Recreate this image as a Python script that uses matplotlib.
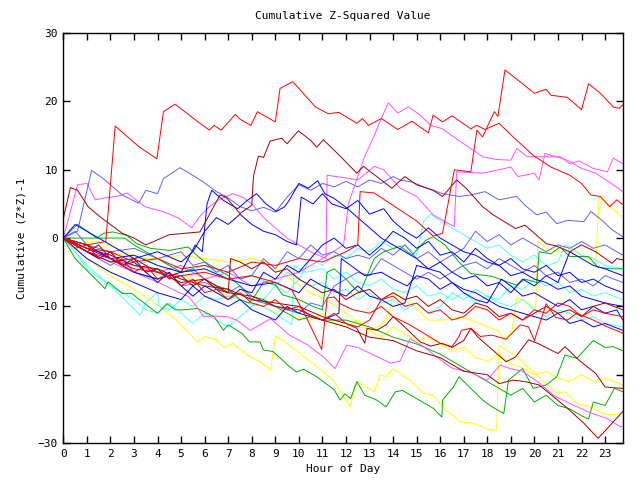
import matplotlib
matplotlib.use("Agg")
import matplotlib.pyplot as plt
import numpy as np

# knots: (hour of day, cumulative value)
red_top = [(0, 0), (1, -1), (1.8, -0.5), (2.2, 16.4), (2.6, 15.2), (3.2, 13.4), (3.97, 11.6), (4.25, 18.5),
           (4.74, 19.6), (5.8, 16.8), (6.2, 15.8), (6.4, 16.5), (6.7, 15.8), (7.3, 18.1), (7.5, 17.4),
           (7.96, 16.5), (8.24, 18.5), (9.0, 17.0), (9.2, 21.9), (9.74, 22.9), (10.7, 19.2), (11.25, 18.2),
           (11.7, 18.4), (12.46, 16.8), (12.7, 17.5), (12.95, 16.5), (13.5, 17.5), (14.2, 15.9), (14.8, 17.1),
           (15.5, 15.4), (15.7, 18.0), (16.1, 17.0), (16.5, 17.9), (17.3, 16.0), (17.55, 16.5), (17.9, 15.9),
           (18.5, 16.8), (19.1, 14.8), (19.95, 12.1), (20.7, 10.4), (21.5, 9.2), (22.0, 8.0), (22.4, 6.3),
           (22.8, 6.1), (23.2, 4.6), (23.5, 5.6), (23.75, 4.9)]
red_jump = [(0, 0), (1, -1.5), (2, -2), (3, -3.5), (4, -3), (5, -4.5), (6, -4), (7, -5), (8, -3.5), (9, -4),
            (10, -3), (11, -3.5), (12, -2), (12.5, -1), (12.6, 6.8), (13.2, 6.6), (14.3, 4.1), (15.0, 2.5),
            (15.7, 0.3), (16.1, 0.7), (16.6, 10), (17.3, 9.7), (17.56, 15.8), (17.8, 14.8), (18.0, 16.3),
            (18.3, 18.5), (18.45, 17.8), (18.75, 24.6), (19.2, 23.4), (20.0, 21.2), (20.5, 21.8), (20.7, 20.9),
            (21.4, 20.6), (22.0, 18.8), (22.3, 22.6), (22.8, 21.2), (23.35, 19.2), (23.6, 19.0), (23.75, 19.5)]
red_mid = [(0, 0), (1, -2), (2, -3), (3, -4.5), (4, -5), (5, -5.5), (6, -5), (7, -6), (8, -5.5), (9, -6.5),
           (9.7, -7.6), (10.3, -11.5), (10.97, -16.3), (11.2, -8.8), (11.5, -8.6), (11.75, -9.6), (12.3, -10.5),
           (13, -11), (13.5, -10), (14, -11.5), (14.6, -12.5), (15.2, -13.7), (16, -15.4), (16.5, -15.9),
           (16.8, -14.4), (16.9, -13.5), (17.3, -13.2), (17.7, -14.4), (18.2, -14.2), (18.8, -14.8),
           (19.4, -12.7), (19.75, -13), (20.0, -15), (20.5, -9.6), (20.9, -11.6), (21.4, -12), (21.8, -11),
           (22.5, -12), (23.1, -13), (23.75, -13.9)]
red_low = [(0, 0), (0.5, -1.5), (1, -1), (1.5, -3), (2, -2), (2.5, -4), (3, -5), (3.5, -4), (4, -6), (4.5, -5.5),
           (5, -7), (5.5, -6), (6, -8), (6.5, -7.5), (7, -9), (7.5, -8), (8, -9.5), (8.5, -10), (9, -9),
           (9.5, -10.5), (10, -10), (10.5, -11.5), (11, -12), (11.5, -11), (12, -12.5), (12.5, -13), (13, -12),
           (13.5, -9), (14, -8.5), (14.5, -10), (15, -9.5), (15.5, -11), (16, -10.5), (16.5, -12), (17, -11.5),
           (17.5, -10), (18, -10.5), (18.5, -12), (19, -11), (19.5, -12), (20, -10.5), (20.5, -11), (21, -9.5),
           (21.5, -10), (22, -11.5), (22.5, -10.5), (23, -11), (23.75, -11.5)]

dkred_top = [(0, 2.9), (0.3, 7.4), (0.6, 7.0), (1.05, 4.6), (1.6, 3.0), (2.5, 0.7), (3.0, 0), (3.5, -1),
             (4.5, 0.5), (5.8, 0.9), (6.65, 6.3), (6.9, 6.0), (7.5, 3.6), (8.0, 4.8), (8.07, 9.0), (8.28, 12.0),
             (8.5, 11.8), (8.78, 14.2), (9.27, 14.6), (9.5, 13.8), (9.98, 15.7), (10.5, 14.3), (10.76, 13.3),
             (11.04, 14.4), (11.75, 12.0), (12.46, 9.5), (12.74, 10.5), (13.95, 7.3), (14.5, 9.0), (15.0, 7.8),
             (15.7, 7.0), (16.1, 6.1), (16.7, 8.5), (17.1, 7.3), (17.8, 4.6), (18.25, 3.4), (19.2, 1.4),
             (19.6, 1.9), (20.1, 0.4), (20.5, -0.8), (20.95, -1.2), (21.5, -2.0), (22.0, -1.0), (22.6, -2.0),
             (23.3, -3.7), (23.5, -3.0), (23.75, -3.2)]
dkred_low = [(0, 0), (1, -2), (2, -3.5), (3, -3), (4, -5), (5, -6.5), (6, -6), (7, -8), (8, -8.5), (9, -10),
             (10, -10.5), (11, -12), (12, -13), (13, -14.5), (14, -15), (15, -16.5), (16, -17.5), (17, -19.5),
             (18, -20), (18.5, -21.3), (19.1, -20.8), (19.6, -21), (20.2, -21.5), (20.8, -23.2), (21.4, -24.9),
             (22.1, -27.1), (22.7, -29.3), (22.9, -28.6), (23.35, -26.9), (23.75, -25.4)]
dkred_mid = [(0, 0), (1, -1.5), (2, -2.5), (3, -4), (4, -4.5), (5, -6), (6, -7), (7, -7.5), (8, -9), (9, -9.5),
             (10, -10), (11, -11.5), (12, -12.5), (12.46, -13.2), (12.8, -15.4), (12.9, -13.2), (13.3, -13.5),
             (13.7, -12.7), (14, -11.5), (14.4, -12.7), (15.15, -15.2), (15.6, -15.8), (16.07, -15.4),
             (16.5, -16), (17, -15), (17.3, -13.2), (17.6, -14.5), (18.8, -18.1), (19.2, -17.4), (19.75, -14.9),
             (20.2, -15.5), (21.0, -16.9), (21.3, -15.9), (21.9, -17.9), (22.6, -19.8), (23.0, -21.8), (23.75, -22)]
dkred_band = [(0, 0), (0.5, -1), (1, -2), (1.5, -1), (2, -3), (2.5, -4), (3, -3.5), (3.5, -5), (4, -4.5),
              (4.5, -6), (5, -5.5), (5.5, -7), (6, -6), (6.5, -7.5), (7, -8), (7.1, -3), (7.5, -3.5), (8, -4.5),
              (8.5, -3.5), (9, -5), (9.5, -4.5), (10, -6), (10.5, -7), (11, -8), (11.5, -7.5), (12, -9),
              (12.5, -8), (13, -7.5), (13.5, -9), (14, -8), (14.5, -9), (15, -8.5), (15.5, -10), (16, -9),
              (16.5, -10.5), (17, -11), (17.5, -9.5), (18, -10), (18.5, -11.5), (19, -11), (19.5, -12),
              (20, -11), (20.5, -10), (21, -11), (21.5, -10.5), (22, -11.5), (22.5, -10), (23, -9.5), (23.75, -10.5)]

mag_top = [(0, 0), (1, -1), (2, -3), (3, -4), (4, -5), (5, -4), (6, -6), (7, -5), (8, -7), (9, -6), (10, -5),
           (11, -3), (11.9, -1), (12.1, 5), (12.4, 8), (12.8, 12), (13.2, 15), (13.5, 17.5), (13.8, 19.8),
           (14.2, 18.3), (14.65, 19.2), (15.15, 18), (15.6, 16.5), (16.1, 16), (16.7, 14.5), (17.3, 13.1),
           (17.8, 11.9), (18.4, 11.5), (19, 11.4), (19.25, 13.1), (19.7, 11.9), (20.4, 11.9), (21.1, 11.9),
           (21.5, 10.9), (21.9, 11.3), (22.5, 10.2), (23.1, 9.7), (23.35, 11.7), (23.75, 10.9)]
mag_mid = [(0, 0), (0.6, 7.8), (1.0, 8), (1.35, 5.6), (1.8, 5.9), (2.27, 6.1), (2.7, 6.6), (3.47, 4.6),
           (4.3, 3.8), (4.9, 2.9), (5.45, 1.5), (5.8, 3.2), (6.2, 4.6), (6.6, 5.6), (7.2, 6.5), (7.6, 6),
           (8.0, 5), (8.5, 3), (9, 1.5), (9.5, 0), (10, -1), (10.5, -2), (11.15, -3), (11.2, 9.2), (12, 8.8),
           (12.5, 8.5), (13.2, 10.5), (13.6, 10), (14.3, 7.3), (15, 6.1), (15.7, 3.4), (16.3, 2.2), (16.6, 1.7),
           (16.7, 9.7), (17.8, 9.5), (18.5, 10), (19, 10.4), (19.3, 9), (20, 9.5), (20.2, 8.5), (20.45, 12.4),
           (21.4, 11.4), (22, 10.2), (22.6, 9.5), (23.35, 7.8), (23.75, 6.8)]
mag_low = [(0, 0), (1, -2), (2, -3.5), (3, -5), (4.1, -6.6), (5.0, -8.1), (5.3, -8.5), (5.66, -10),
           (5.95, -11.5), (6.4, -11.4), (6.94, -11.5), (7.36, -12), (7.93, -13.5), (8.35, -12.7), (8.8, -11.8),
           (9.6, -14.2), (10.4, -15.7), (11.04, -17.4), (11.54, -19.1), (12.03, -15.7), (12.5, -16),
           (13.16, -17.1), (13.9, -18.3), (14.3, -18), (14.72, -14.7), (15.3, -15.9), (15.85, -17.4),
           (16.4, -18.8), (16.56, -19.1), (17.27, -19.6), (17.98, -20.8), (18.55, -18.6), (18.97, -19.1),
           (19.5, -19.5), (20.24, -21.3), (20.8, -23), (21.5, -24.2), (22.4, -25.6), (23.07, -26.4),
           (23.64, -27.6), (23.75, -27.5)]

ltblue_top = [(0, 0), (0.6, 1), (1.2, 9.9), (1.7, 8.7), (2.5, 6.3), (3.2, 5.1), (3.5, 7.0), (4.0, 6.5),
              (4.25, 8.7), (4.95, 10.3), (5.3, 9.6), (5.95, 8.2), (6.5, 6.8), (6.9, 6.1), (7.5, 4.6), (8.0, 4.0),
              (8.5, 4.5), (9, 3.8), (9.5, 6), (10, 7.8), (10.5, 7.0), (11.0, 8.0), (11.5, 7.5), (12, 8.3),
              (12.5, 7.5), (13, 8.5), (13.5, 8), (14, 9), (14.3, 8.5), (14.8, 8.2), (15.3, 7.5), (16.1, 6.5),
              (16.8, 6.1), (17.3, 6.3), (17.9, 6.8), (18.5, 5.6), (19.25, 6.1), (19.6, 4.8), (20.1, 3.4),
              (20.5, 3.8), (20.95, 2.1), (21.4, 2.6), (22.1, 2.4), (22.4, 3.9), (22.9, 2.5), (23.3, 1.2),
              (23.75, 0.2)]
ltblue_mid = [(0, 0), (0.5, 1), (1, -1), (2, -2), (3, -1.5), (4, -3), (5, -2), (5.5, -4), (6, -3.5), (6.5, -5),
              (7, -4), (7.5, -6), (8, -5.5), (8.5, -3), (9, -4.5), (9.5, -2), (10, -3), (10.5, -1), (11, -2.5),
              (11.5, -2), (12, -3), (12.5, -2.5), (13, -3), (13.5, -1.5), (14, -2.5), (14.5, -1), (15, -3),
              (15.5, -2), (16, -3.5), (16.5, -2.5), (17, -1.5), (17.5, 1), (18, -0.5), (18.5, 0.5), (19, -1),
              (19.5, 0), (20, -1), (20.5, -2), (21, -1), (21.5, -1.5), (22, -0.5), (22.5, -1.5), (23, -1),
              (23.75, -2.5)]
ltblue_low = [(0, 0), (1, -2), (2, -4), (2.5, -3), (3, -5), (4, -6), (4.5, -5), (5, -7), (6, -6.5), (7, -8),
              (7.5, -7), (8, -9), (9, -10), (10, -11), (10.5, -9.5), (11, -10), (11.5, -7), (12, -6), (12.5, -5),
              (13, -5.5), (13.5, -3), (14, -4), (14.5, -5), (15, -6), (15.5, -5), (16, -6), (16.5, -5), (17, -4),
              (17.5, -3.5), (18, -4.5), (18.5, -3), (19, -4), (19.5, -5), (20, -4), (20.5, -5.5), (21, -5),
              (21.5, -6.5), (22, -6), (22.5, -7), (23, -5.5), (23.75, -6.5)]

blue_a = [(0, 0), (1, -1), (2, -3), (3, -5), (4, -6), (5, -5), (5.6, -1), (5.9, -2), (6.1, 5), (6.3, 7),
          (6.8, 5.5), (7.4, 4.3), (7.8, 5.5), (8.2, 6.5), (8.6, 5), (9.05, 3.9), (9.4, 4.6), (9.6, 5.6), (10, 8.0),
          (10.4, 7.3), (10.8, 8.4), (11.1, 6.5), (11.5, 5.8), (12, 4.5), (12.5, 3), (13, 1.5), (13.5, 0),
          (14, -1), (14.5, -2), (15, -3), (15.5, -4.5), (16, -5), (16.5, -6.5), (17, -7.5), (17.5, -8), (18, -9),
          (18.5, -10), (19, -10.5), (19.5, -11), (20, -11.5), (20.5, -12), (21, -11), (21.5, -12.5), (22, -12),
          (22.5, -13), (23, -12.5), (23.75, -13.5)]
blue_b = [(0, 0), (0.5, 2), (1, 1), (2, -1), (3, -3), (4, -2), (5, -3.5), (5.5, -2), (6, 1), (6.5, 3), (7, 2),
          (7.5, 3.5), (8, 2), (8.5, 1), (9, 0.5), (9.5, -0.5), (9.9, -1), (10.1, 6), (10.6, 5), (11, 6.5),
          (11.4, 5), (12, 4.3), (12.5, 5.5), (13, 3.5), (13.6, 4.3), (14, 2.5), (14.5, 1), (15, 0), (15.5, 1.5),
          (16, 0), (16.5, -1), (17, -2), (17.5, -2.5), (18, -3.5), (18.5, -4), (19, -5.5), (19.5, -5), (20, -6),
          (20.5, -6.5), (21, -7.5), (21.5, -7), (22, -8.5), (22.5, -9), (23, -9.5), (23.75, -10)]
blue_c = [(0, 0), (0.5, -1), (1, -2), (1.5, -3), (2, -2), (2.5, -4), (3, -3), (3.5, -5), (4, -6.5), (4.5, -5),
          (5, -7), (5.5, -8.5), (6, -7), (6.5, -8), (7, -9), (7.5, -7.5), (8, -8), (8.5, -5), (9, -6), (9.5, -4),
          (10, -5), (10.5, -3), (11, -1), (11.5, 0), (12, -1.5), (12.5, -1), (13, -2.5), (13.5, -1), (14, 1),
          (14.5, 0), (15, -1.5), (15.5, -0.5), (16, -2.5), (16.5, -2), (17, -3.5), (17.5, -1.5), (18, -3),
          (18.5, -4), (19, -3), (19.5, -4.5), (20, -5), (20.5, -4), (21, -5.5), (21.5, -5), (22, -6.5),
          (22.5, -6), (23, -7), (23.75, -8)]
blue_d = [(0, 0), (1, -3), (2, -5), (3, -6.5), (4, -8), (5, -9), (5.5, -7), (6, -8.5), (7, -10), (7.5, -9),
          (8, -10.5), (9, -12), (9.5, -10), (10, -11), (11, -12), (11.7, -11), (11.8, -3), (12.2, -4),
          (12.8, -5.5), (13.5, -5), (14, -6), (14.6, -7), (15, -5.5), (15.5, -6), (16, -7.5), (16.5, -6.5),
          (17, -8), (17.5, -9), (18, -9.5), (18.6, -6), (19, -7), (19.5, -8.5), (20, -8), (20.5, -9), (21, -10),
          (21.5, -9), (22, -10.5), (22.5, -10), (23, -11), (23.5, -10.5), (23.75, -12)]
blue_e = [(0, 0), (1, -1.5), (2, -3), (3, -2.5), (4, -4), (5, -5), (6, -4.5), (7, -6), (8, -7), (9, -6.5),
          (10, -8), (10.5, -6), (11, -7), (12, -8.5), (12.5, -7), (13, -8.5), (13.5, -9), (14, -10), (14.5, -9.5),
          (15, -4), (15.5, -4.5), (16, -3.5), (16.5, -5), (17, -6), (17.5, -5.5), (18, -7), (18.5, -6.5),
          (19, -8), (19.5, -6), (20, -7), (20.5, -5.5), (21, -6.5), (21.5, -2), (22, -3), (22.5, -4), (23, -4.5),
          (23.75, -5.5)]

cyan_a = [(0, 0), (1, -4), (2, -7), (3.26, -11.3), (3.5, -9.5), (4.0, -7.9), (4.05, -10), (4.5, -10.5),
          (5, -9), (5.5, -10), (6, -8.5), (6.5, -9), (7, -8.5), (7.5, -9), (7.9, -9.6), (8.5, -10), (9.2, -11.5),
          (9.7, -12.7), (9.8, -4), (10.3, -5), (11, -4.5), (11.5, -6), (12, -5), (12.5, -6.5), (13, -7),
          (13.5, -6), (14, -7.5), (14.5, -8), (15, -7), (15.5, -8.5), (16, -8), (16.5, -9), (17, -8), (17.5, -9.5),
          (18, -8.5), (18.5, -9), (19, -7), (19.5, -7.5), (20, -6), (20.5, -7), (21, -6.5), (21.5, -8),
          (22, -7.5), (22.5, -8.5), (23, -8), (23.75, -9)]
cyan_b = [(0, 0), (1, -1), (2, -3), (3, -4), (4, -3), (5, -5), (6, -4), (7, -6), (8, -5.5), (9, -7), (9.5, -5),
          (10, -6), (10.5, -3), (11, -4), (11.5, -2.5), (12, -3), (12.5, -1.5), (13, -2), (13.5, -0.5),
          (14, -1.5), (14.5, -1), (15, -2.5), (15.3, 2.5), (15.6, 3.5), (16, 2.5), (16.5, 1.5), (17, 0.5),
          (17.5, -0.5), (18, -1.5), (18.5, -1), (19, -2.5), (19.5, -3.5), (20, -2.5), (20.5, -4), (21, -3.5),
          (21.3, -1), (21.6, -1.5), (22, -2.5), (22.5, -3), (23, -4), (23.75, -4.5)]
cyan_c = [(0, 0), (0.5, -2), (1, -4.5), (2, -7), (3, -9), (3.5, -10.5), (4, -11), (4.5, -9.5), (5, -11),
          (5.5, -12.5), (6, -11), (6.5, -12), (7, -13), (7.5, -11.5), (8, -10), (8.5, -9), (9, -7), (9.5, -8),
          (10, -6), (10.5, -7), (11, -6.5), (11.5, -8), (12, -7.5), (12.5, -9), (13, -8), (13.5, -9.5), (14, -9),
          (14.5, -10.5), (15, -9.5), (15.5, -11), (16, -10), (16.5, -8), (17, -9), (17.5, -7.5), (18, -8.5),
          (18.5, -9.5), (19, -10), (19.5, -9), (20, -10.5), (20.5, -11.5), (21, -10.5), (21.5, -11), (22, -12),
          (22.5, -11.5), (23, -12.5), (23.75, -13)]

green_low = [(0, 0), (0.5, -3), (1.77, -7.4), (1.9, -6.4), (2.5, -8.1), (2.9, -8.1), (3.54, -9.8), (4.0, -11),
             (4.4, -9.6), (4.75, -10.5), (5.1, -10.5), (5.7, -10.3), (6.4, -11.5), (6.8, -13.5), (7.0, -12.7),
             (7.6, -14), (7.9, -15.2), (8.35, -15.2), (8.5, -16.4), (8.9, -16.6), (9.6, -18.8), (9.9, -19.6),
             (10.2, -19.2), (10.76, -20.3), (11.5, -22.2), (11.75, -23.7), (11.95, -22.8), (12.2, -23.5),
             (12.46, -21), (12.8, -23), (13.3, -23.7), (13.7, -24.7), (14.1, -22.5), (14.4, -22.3), (15.0, -23.5),
             (15.7, -24.9), (16.07, -26.2), (16.1, -23.7), (16.56, -21.8), (16.8, -20.3), (17.8, -23.7),
             (18.2, -24.7), (18.7, -25.7), (18.9, -20.8), (19.5, -19.1), (19.95, -22), (20.5, -21.5),
             (20.95, -20.3), (21.3, -17.1), (21.8, -17.6), (22.5, -15), (23, -16), (23.35, -15.9), (23.75, -16.5)]
green_mid = [(0, 0), (0.6, 2), (1.42, 0), (1.7, 0.7), (2.1, 0.9), (2.7, 0.4), (3.1, -0.8), (3.7, -1.5),
             (4.5, -1.8), (5.3, -1.3), (5.6, -2.3), (6, -3.5), (6.5, -4.5), (7, -5.5), (7.5, -7), (8, -8.5),
             (8.5, -9), (9, -10), (9.5, -11), (10, -12), (10.5, -11.5), (11, -12), (12, -12), (13, -13),
             (14, -14.5), (15, -15.5), (16, -17), (16.5, -18), (17, -19), (17.5, -20), (18, -21), (18.5, -22),
             (19, -23), (19.5, -22), (20, -24), (20.5, -23), (21, -24.5), (21.5, -25), (22, -26), (22.3, -26.5),
             (22.5, -24), (23, -24.5), (23.4, -22), (23.75, -22.5)]
green_up = [(0, 0), (0.5, 0), (1, 0), (1.5, 0), (2, 0), (2.6, 0), (3, -1), (3.5, -2), (4, -3), (4.5, -4),
            (5, -5), (5.5, -4.5), (6, -6), (6.5, -7), (7, -7.5), (7.5, -9), (7.9, -9.5), (8.2, -8.1), (8.5, -6.4),
            (9, -6.8), (9.3, -8.3), (10, -9), (10.6, -10), (11, -10.5), (11.2, -5), (11.5, -4.5), (12, -6),
            (12.4, -7.5), (12.6, -8), (13.2, -3), (13.6, -2), (14.3, -1.2), (14.8, -2.5), (15.4, -0.3),
            (15.7, 0.2), (16.2, -1), (16.8, -3.5), (17.3, -5.2), (18.2, -5.6), (19.25, -6.9), (19.6, -6),
            (20.1, -6.5), (20.2, -2), (20.7, -2.3), (21.1, -1.3), (21.5, -2.7), (22.3, -2.7), (22.7, -4.3),
            (23.3, -4.5), (23.75, -4.5)]

yellow_low = [(0, 0), (1, -3), (2, -5.5), (3, -7.5), (4.1, -10), (4.8, -12), (5.7, -15.2), (6, -14.4),
              (6.5, -14.9), (6.8, -16), (7.2, -15.4), (7.8, -17.1), (8.35, -18.1), (8.8, -19.3), (9.0, -14.4),
              (9.3, -14.9), (10.05, -16.9), (10.76, -18.8), (11.46, -20.8), (11.8, -22.7), (12.17, -24.7),
              (12.46, -21), (13.2, -22.5), (13.45, -20), (13.7, -20.3), (14.0, -19.1), (14.7, -20.8),
              (15.3, -22.7), (15.7, -23), (16.1, -24.7), (16.85, -26.9), (17.4, -27.1), (18.1, -28.1),
              (18.4, -28.1), (18.5, -15.7), (18.9, -16.6), (19.3, -17.4), (19.7, -18.8), (20.5, -21.3),
              (20.95, -22.7), (21.3, -22.5), (21.8, -24.2), (22.4, -24.7), (22.9, -25.7), (23.3, -25.9),
              (23.75, -25.7)]
yellow_late = [(0, 0), (1, -1.5), (2, -2), (3, -3), (4, -3), (5, -2.5), (6, -3), (7, -3.5), (8, -3), (8.6, -3.5),
               (8.9, -4.2), (10.3, -7.6), (11.5, -9.8), (12.2, -11.5), (12.7, -13), (13.0, -13.5),
               (13.45, -12.8), (13.8, -11.3), (14.0, -7.9), (14.3, -8.6), (14.9, -10), (15.5, -12), (16.1, -12),
               (16.85, -11.5), (17.7, -12.5), (18.5, -13.7), (18.7, -15), (19.05, -13.5), (19.25, -8.8),
               (19.5, -9), (20.05, -10.3), (20.15, -0.5), (20.5, -1.5), (21, -2), (21.6, -2), (22, -2.5),
               (22.5, -3.5), (22.6, -4), (22.75, 6), (23.2, 4.6), (23.75, 3.1)]
yellow_mid = [(0, 0), (0.7, -0.8), (1.5, -0.5), (2.1, -1.3), (2.6, -2), (3.3, -3), (4, -4), (5, -5),
              (5.5, -6.5), (6, -6), (6.5, -7.5), (7, -8.5), (7.5, -8), (8, -9.5), (8.5, -10), (9, -11),
              (9.5, -10), (10, -11.5), (10.5, -12), (11, -11), (11.5, -12.5), (12, -13), (12.5, -12),
              (13, -13.5), (13.5, -14.5), (14, -13), (14.5, -14), (15, -15), (15.5, -14.5), (16, -15.5),
              (16.5, -16.5), (17, -16), (17.5, -17.5), (18, -18), (18.5, -17), (19, -18.5), (19.5, -19),
              (20, -20), (20.5, -19.5), (21, -20.5), (21.5, -21), (22, -20), (22.5, -21), (23, -20.5),
              (23.75, -21.5)]

RED, DKRED, GREEN, BLUE = "#ff0000", "#a00000", "#00b000", "#0000ff"
LTBLUE, MAGENTA, CYAN, YELLOW = "#6060ff", "#ff50ff", "#50ffff", "#ffff00"

series = [
    (yellow_low, YELLOW), (yellow_mid, YELLOW), (yellow_late, YELLOW),
    (cyan_a, CYAN), (cyan_b, CYAN), (cyan_c, CYAN),
    (green_low, GREEN), (green_mid, GREEN), (green_up, GREEN),
    (mag_low, MAGENTA), (mag_mid, MAGENTA), (mag_top, MAGENTA),
    (ltblue_top, LTBLUE), (ltblue_mid, LTBLUE), (ltblue_low, LTBLUE),
    (blue_a, BLUE), (blue_b, BLUE), (blue_c, BLUE), (blue_d, BLUE), (blue_e, BLUE),
    (dkred_top, DKRED), (dkred_low, DKRED), (dkred_mid, DKRED), (dkred_band, DKRED),
    (red_low, RED), (red_mid, RED), (red_jump, RED), (red_top, RED),
]

plt.rcParams["font.family"] = "DejaVu Sans Mono"
plt.rcParams["font.size"] = 8

fig = plt.figure(figsize=(6.4, 4.8), dpi=100)
ax = fig.add_axes([0.099, 0.077, 0.874, 0.854])

for knots, color in series:
    pts = np.array(knots)
    ax.plot(pts[:, 0], pts[:, 1], color=color, linewidth=0.7)

ax.set_xlim(0, 23.75)
ax.set_ylim(-30, 30)
ax.set_xticks(range(0, 24))
ax.set_yticks(range(-30, 31, 10))
ax.tick_params(direction="in", length=5, width=1, top=True, right=True, pad=4)
for sp in ax.spines.values():
    sp.set_linewidth(1)

ax.set_title("Cumulative Z-Squared Value", fontsize=8, pad=10)
ax.set_xlabel("Hour of Day", labelpad=4)
ax.set_ylabel("Cumulative (Z*Z)-1", labelpad=8)

fig.savefig("out.png", dpi=100)
